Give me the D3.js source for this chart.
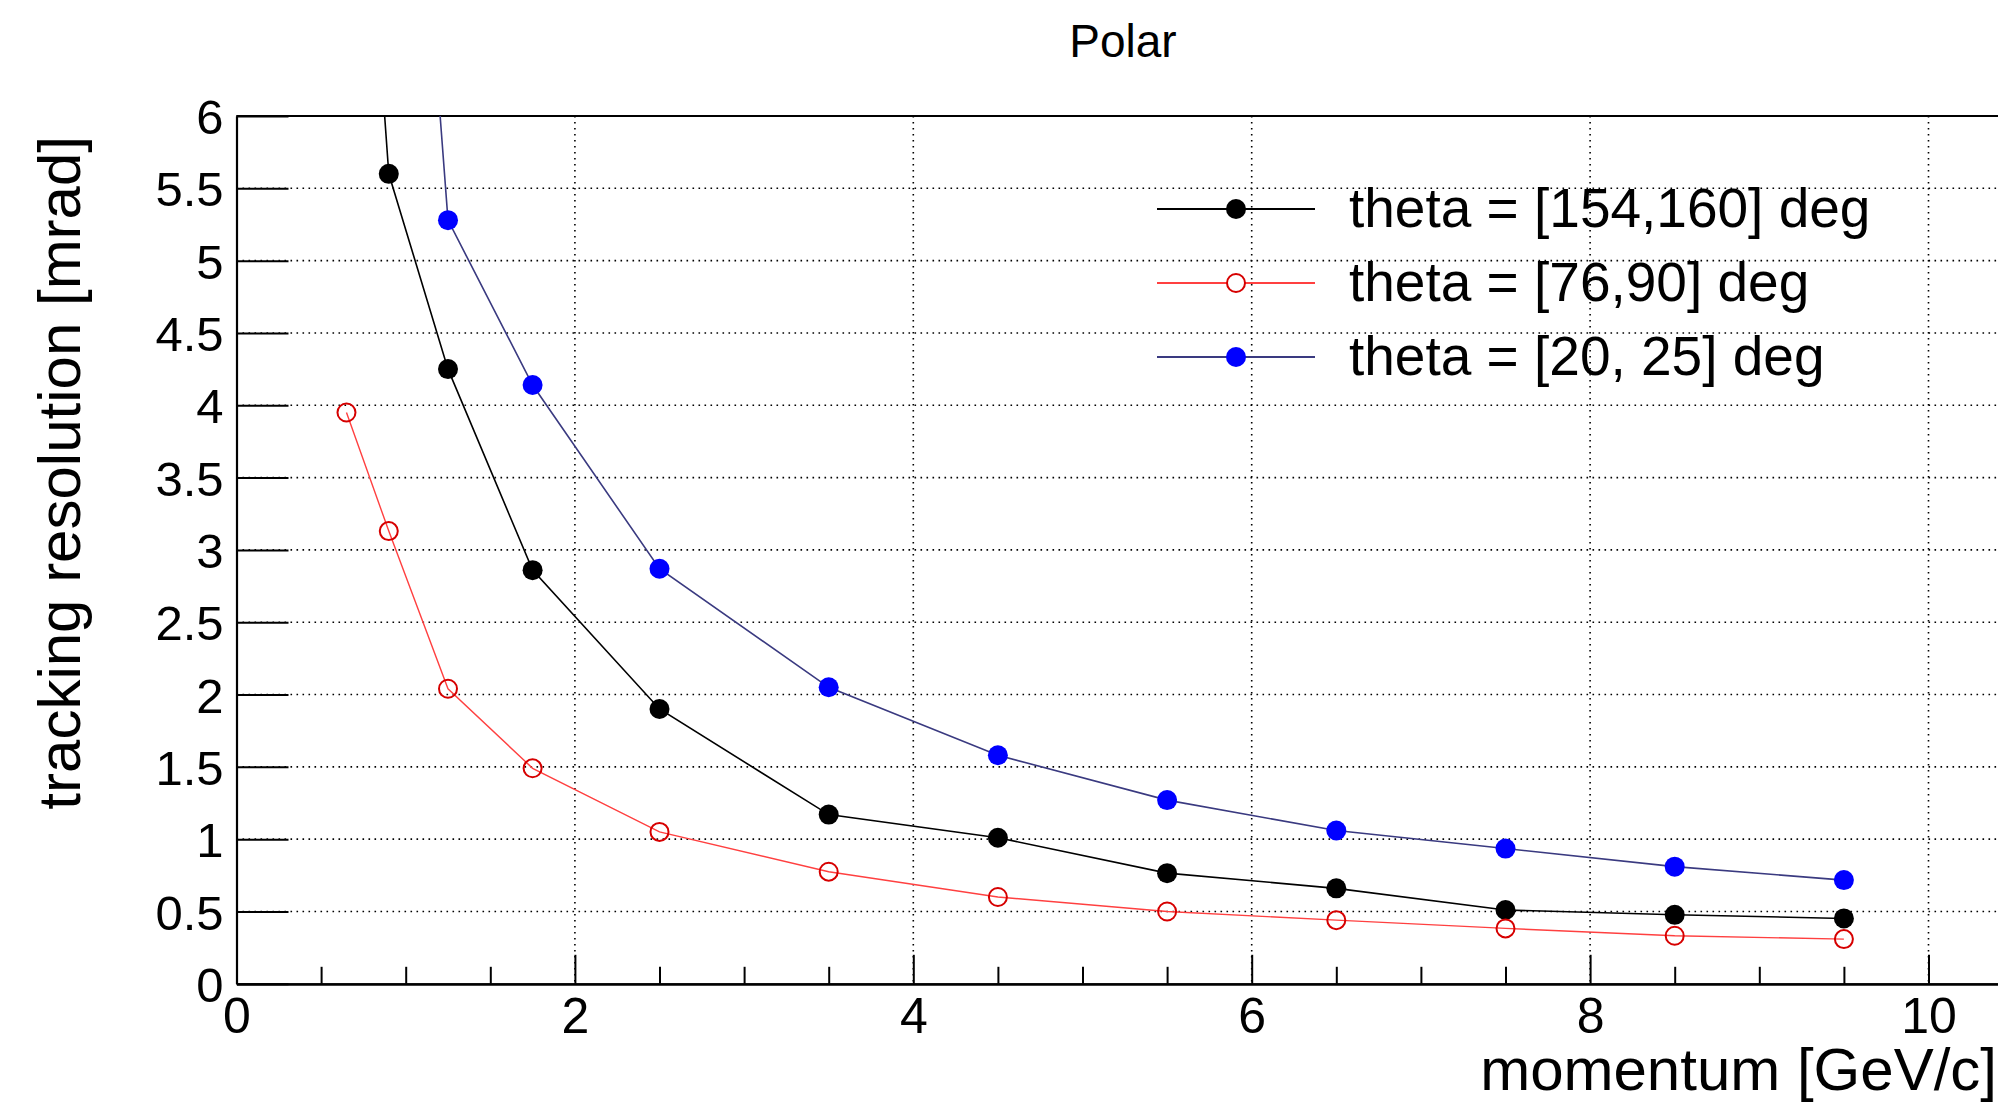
<!DOCTYPE html>
<html>
<head>
<meta charset="utf-8">
<script src="https://cdnjs.cloudflare.com/ajax/libs/d3/7.8.5/d3.min.js"></script>
<style>
  body { margin: 0; background: #fff; }
  text { font-family: "Liberation Sans", Arial, Helvetica, sans-serif; fill: #000; }
</style>
</head>
<body>
<script>
// data
let momentum = [0.65, 0.9, 1.25, 1.75, 2.5, 3.5, 4.5, 5.5, 6.5, 7.5, 8.5, 9.5];
let resBack = [9.7, 5.6, 4.25, 2.86, 1.90, 1.17, 1.01, 0.765, 0.66, 0.51, 0.477, 0.452];   // theta 154-160
let resCentral = [3.95, 3.13, 2.04, 1.49, 1.05, 0.775, 0.60, 0.50, 0.44, 0.383, 0.332, 0.309]; // theta 76-90
let momentumFwd = [0.9, 1.25, 1.75, 2.5, 3.5, 4.5, 5.5, 6.5, 7.5, 8.5, 9.5];
let resForward = [10.7, 5.28, 4.14, 2.87, 2.05, 1.58, 1.27, 1.06, 0.935, 0.81, 0.717];      // theta 20-25

let xTicks = [0, 2, 4, 6, 8, 10];
let xMinor = [0.5, 1, 1.5, 2.5, 3, 3.5, 4.5, 5, 5.5, 6.5, 7, 7.5, 8.5, 9, 9.5];
let yTicks = [0, 0.5, 1, 1.5, 2, 2.5, 3, 3.5, 4, 4.5, 5, 5.5, 6];
let legendLabels = ['theta = [154,160] deg', 'theta = [76,90] deg', 'theta = [20, 25] deg'];

let W = 1998, H = 1102;
let padLeft = 236.5, padTop = 116, padBottom = 983.8;

let svg = d3.select('body').append('svg')
    .attr('width', W)
    .attr('height', H);

let x = d3.scaleLinear().domain([0, 10.5]).range([padLeft, padLeft + 10.5 * 169.2]);
let y = d3.scaleLinear().domain([0, 6]).range([padBottom, padTop]);

svg.append('defs').append('clipPath').attr('id', 'frame')
  .append('rect')
    .attr('x', x(0)).attr('y', y(6))
    .attr('width', x(10.5) - x(0)).attr('height', y(0) - y(6));

// grid (dotted)
let grid = svg.append('g')
    .attr('stroke', '#000')
    .attr('stroke-width', 1.6)
    .attr('stroke-dasharray', '1.6,4.4');
grid.selectAll('.gy').data(yTicks.slice(1)).enter().append('line')
    .attr('x1', x(0)).attr('x2', W)
    .attr('y1', d => y(d)).attr('y2', d => y(d));
grid.selectAll('.gx').data(xTicks.slice(1)).enter().append('line')
    .attr('x1', d => x(d)).attr('x2', d => x(d))
    .attr('y1', y(6)).attr('y2', y(0));

// frame top
svg.append('line')
    .attr('x1', x(0)).attr('x2', W)
    .attr('y1', y(6)).attr('y2', y(6))
    .attr('stroke', '#000').attr('stroke-width', 2.2);

// y axis
let yAxis = d3.axisLeft(y)
    .tickValues(yTicks)
    .tickFormat(d3.format('~g'))
    .tickSizeInner(-52)
    .tickSizeOuter(0)
    .tickPadding(13);
let gy = svg.append('g')
    .attr('transform', 'translate(' + x(0) + ',0)')
    .call(yAxis);
gy.selectAll('text').style('font-size', '49px').attr('dy', '0.36em');

// x axis, major and minor ticks
let xAxis = d3.axisBottom(x)
    .tickValues(xTicks)
    .tickFormat(d3.format('d'))
    .tickSizeInner(-29)
    .tickSizeOuter(0)
    .tickPadding(14);
let gx = svg.append('g')
    .attr('transform', 'translate(0,' + y(0) + ')')
    .call(xAxis);
gx.selectAll('text').style('font-size', '50px');

let xAxisMinor = d3.axisBottom(x)
    .tickValues(xMinor)
    .tickFormat('')
    .tickSizeInner(-17)
    .tickSizeOuter(0);
svg.append('g')
    .attr('transform', 'translate(0,' + y(0) + ')')
    .call(xAxisMinor);

svg.selectAll('.domain').attr('stroke-width', 2.2);
svg.selectAll('.tick line').attr('stroke-width', 2);

// graphs
let series = [
  { px: momentum, py: resBack, line: '#000', lw: 1.6, fill: '#000', stroke: 'none' },
  { px: momentum, py: resCentral, line: '#ff4040', lw: 1.4, fill: 'none', stroke: '#d60000' },
  { px: momentumFwd, py: resForward, line: '#3a3a80', lw: 1.6, fill: '#0000ff', stroke: 'none' }
];

let plot = svg.append('g').attr('clip-path', 'url(#frame)');
let line = d3.line()
    .x(d => x(d[0]))
    .y(d => y(d[1]));

series.forEach(s => {
  let pts = s.px.map((p, i) => [p, s.py[i]]);
  plot.append('path')
      .datum(pts)
      .attr('d', line)
      .attr('fill', 'none')
      .attr('stroke', s.line)
      .attr('stroke-width', s.lw);
  plot.selectAll(null).data(pts).enter().append('circle')
      .attr('cx', d => x(d[0]))
      .attr('cy', d => y(d[1]))
      .attr('r', s.fill === 'none' ? 9 : 10)
      .attr('fill', s.fill)
      .attr('stroke', s.stroke)
      .attr('stroke-width', 2);
});

// legend
let legend = svg.append('g');
legendLabels.forEach((label, i) => {
  let s = series[i];
  let ly = 209 + i * 74;
  legend.append('line')
      .attr('x1', 1157).attr('x2', 1315)
      .attr('y1', ly).attr('y2', ly)
      .attr('stroke', s.line).attr('stroke-width', s.lw + 0.6);
  legend.append('circle')
      .attr('cx', 1236).attr('cy', ly)
      .attr('r', s.fill === 'none' ? 9 : 10)
      .attr('fill', s.fill === 'none' ? '#fff' : s.fill)
      .attr('stroke', s.stroke)
      .attr('stroke-width', 2);
  legend.append('text')
      .attr('x', 1349).attr('y', ly + 18)
      .style('font-size', '55px')
      .text(label);
});

// titles
svg.append('text')
    .attr('x', 1123).attr('y', 57)
    .attr('text-anchor', 'middle')
    .style('font-size', '46px')
    .text('Polar');

svg.append('text')
    .attr('x', 1997).attr('y', 1090)
    .attr('text-anchor', 'end')
    .style('font-size', '60px')
    .text('momentum [GeV/c]');

svg.append('text')
    .attr('transform', 'translate(80,136) rotate(-90)')
    .attr('text-anchor', 'end')
    .style('font-size', '60px')
    .text('tracking resolution [mrad]');
</script>
</body>
</html>
